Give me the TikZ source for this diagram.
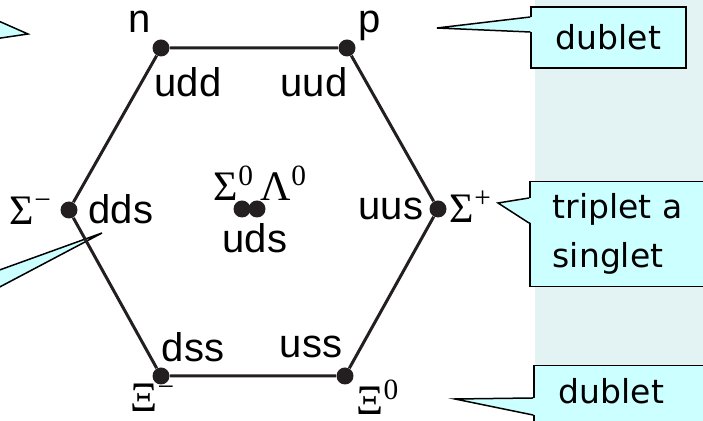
\documentclass[tikz,border=0pt]{standalone}
\usepackage{fontspec}
\newfontfamily\quarkfont{Liberation Sans}
\newfontfamily\greekfont{Liberation Serif}
\newfontfamily\notefont{DejaVu Sans}
\usepackage{tikz}
\usetikzlibrary{positioning}

\definecolor{hexline}{RGB}{35,31,32}
\definecolor{callfill}{RGB}{204,255,255}
\definecolor{panelbg}{RGB}{227,242,242}

% pointer of a callout: base point, tip, base point
\newcommand{\calltip}[3]{%
	\fill[callfill] ([xshift=1pt]#1) -- (#2) -- ([xshift=1pt]#3) -- cycle;
	\draw[black, line width=0.75pt, line join=miter] (#1) -- (#2) -- (#3);}

\begin{document}
\begin{tikzpicture}[x=0.5pt, y=-0.5pt,
	vertex/.style={circle, fill=hexline, inner sep=0pt, minimum size=8.5pt},
	quark/.style={inner sep=0pt, font=\quarkfont\fontsize{20}{24}\selectfont},
	hadron/.style={inner sep=0pt, font=\greekfont\fontsize{21}{24}\selectfont},
	callbox/.style={draw=black, line width=0.75pt, fill=callfill, font=\notefont\fontsize{16.5}{24.5}\selectfont}]
	\useasboundingbox (0,0) rectangle (703,421);
	\clip (0,0) rectangle (703,421);
	\fill[panelbg] (535,0) rectangle (703,421);

	%callouts from the left
	\coordinate (tipa) at (28,34);
	\coordinate (baa) at (-6,19);
	\coordinate (bab) at (-6,39);
	\calltip{baa}{tipa}{bab}
	\coordinate (tipb) at (102,233);
	\coordinate (bba) at (-6,272);
	\coordinate (bbb) at (-6,290);
	\calltip{bba}{tipb}{bbb}

	%hexagon
	\node[vertex] (n) at (161,48) {};
	\node[vertex] (p) at (347,48) {};
	\node[vertex] (sigp) at (438,209) {};
	\node[vertex] (xi0) at (345,376) {};
	\node[vertex] (xim) at (161,376) {};
	\node[vertex] (sigm) at (69,210) {};
	\node[vertex] (sig0) at (242,209) {};
	\node[vertex] (lam0) at (257,209) {};
	\draw[hexline, line width=1.5pt] (n) -- (p) -- (sigp) -- (xi0) -- (xim) -- (sigm) -- (n);

	%labels
	\node[quark] (nlab) at (140,22) {n};
	\node[quark] (plab) at (370,26) {p};
	\node[quark] (udd) at (188,82) {udd};
	\node[quark] (uud) at (314,82) {uud};
	\node[quark] (dds) at (121,209) {dds};
	\node[quark] (uus) at (391,209) {uus};
	\node[quark] (uds) at (255,238) {uds};
	\node[quark] (dss) at (193,347) {dss};
	\node[quark] (uss) at (311,347) {uss};
	\node[hadron] (sigmlab) at (31,211) {Σ\textsuperscript{−}};
	\node[hadron] (sigplab) at (471,207) {Σ\textsuperscript{+}};
	\node[hadron] (sig0lab) at (234,183) {Σ\textsuperscript{0}};
	\node[hadron] (lam0lab) at (284,183) {Λ\textsuperscript{0}};
	\node[hadron] (ximlab) at (153,398) {Ξ\textsuperscript{−}};
	\node[hadron] (xi0lab) at (378,397) {Ξ\textsuperscript{0}};

	%callouts on the right
	\node[callbox, minimum width=77.5pt, minimum height=30.5pt] (dub1) at (608.5,37.5) {dublet};
	\node[callbox, anchor=north west, text width=80pt, inner xsep=11.5pt, minimum height=52.5pt, align=left] (trip) at (529,181) {triplet a\\singlet};
	\node[callbox, anchor=north west, text width=80pt, inner xsep=12.5pt, inner ysep=6.5pt, text height=12.5pt, text depth=12.5pt] (dub2) at (533,365) {dublet};
	\coordinate (tip1) at (437,28);
	\coordinate (b1a) at (dub1.west |- 0,17);
	\coordinate (b1b) at (dub1.west |- 0,32);
	\calltip{b1a}{tip1}{b1b}
	\coordinate (tip2) at (498,203);
	\coordinate (b2a) at (trip.west |- 0,198);
	\coordinate (b2b) at (trip.west |- 0,223);
	\calltip{b2a}{tip2}{b2b}
	\coordinate (tip3) at (455,399);
	\coordinate (b3a) at (dub2.west |- 0,398);
	\coordinate (b3b) at (dub2.west |- 0,415);
	\calltip{b3a}{tip3}{b3b}
\end{tikzpicture}
\end{document}
